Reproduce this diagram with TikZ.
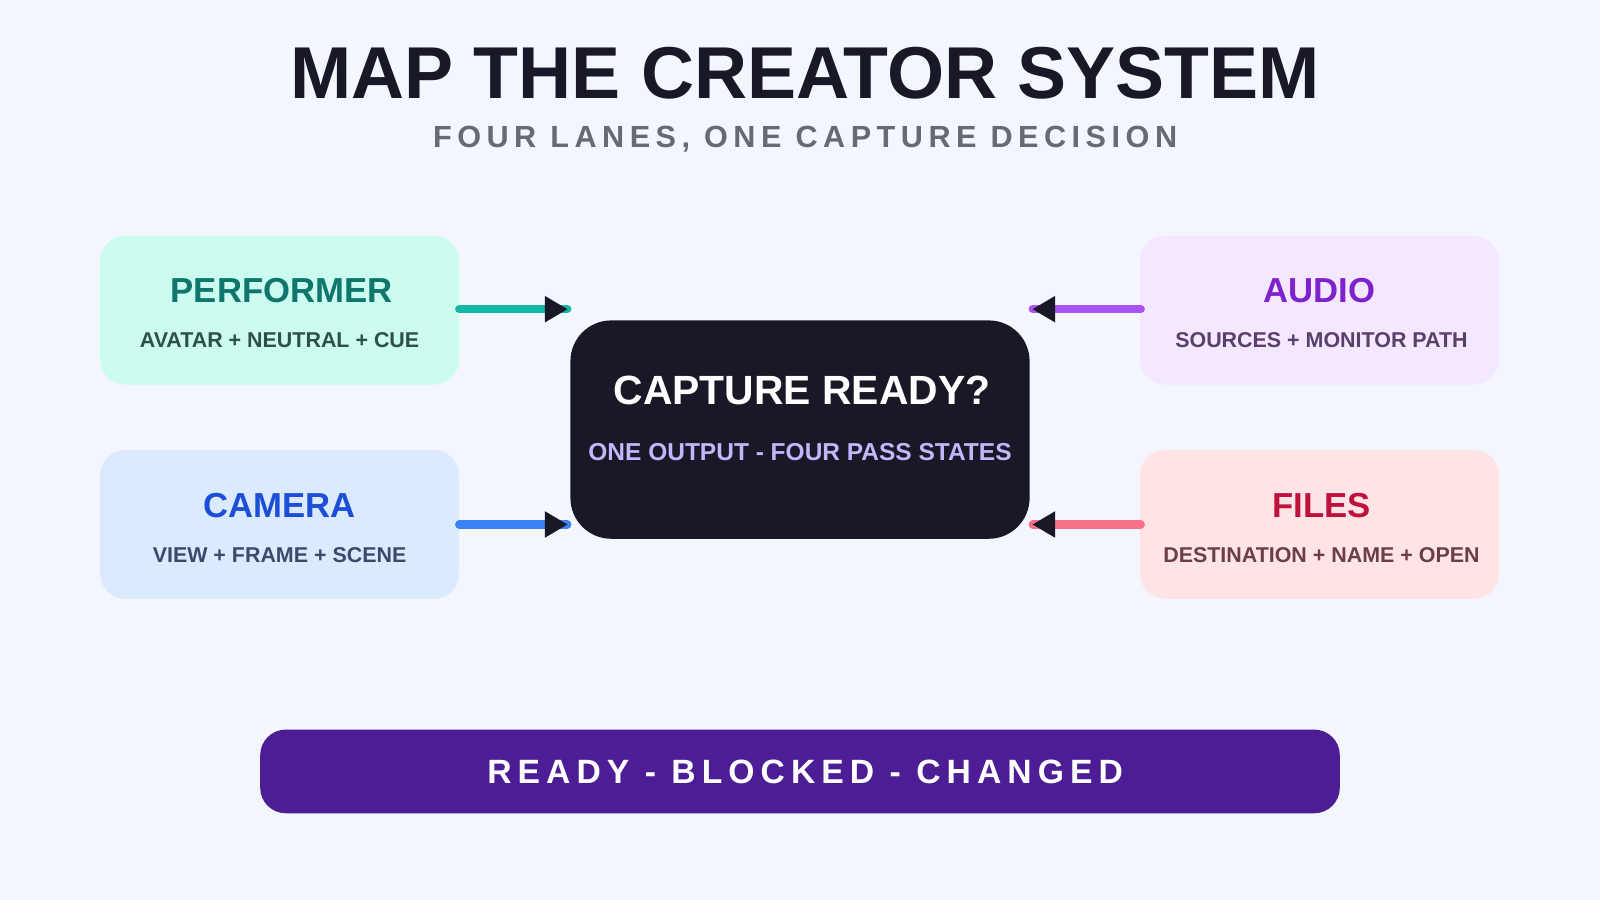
\documentclass[tikz,border=0pt]{standalone}
\usepackage{fontspec}
\setmainfont{Liberation Sans}
\definecolor{bg}{HTML}{F4F6FD}
\definecolor{ink}{HTML}{181826}
\definecolor{pf}{HTML}{CCFBEF}\definecolor{pt}{HTML}{0F766E}\definecolor{ps}{HTML}{2F4F4A}\definecolor{pl}{HTML}{14B8A6}
\definecolor{cf}{HTML}{DBEAFE}\definecolor{ct}{HTML}{1D4ED8}\definecolor{cs}{HTML}{3B4A6B}\definecolor{cl}{HTML}{3B82F6}
\definecolor{af}{HTML}{F3E8FF}\definecolor{at}{HTML}{7E22CE}\definecolor{as}{HTML}{5B3F6B}\definecolor{al}{HTML}{A855F7}
\definecolor{ff}{HTML}{FFE4E6}\definecolor{ft}{HTML}{BE123C}\definecolor{fs}{HTML}{6B3F45}\definecolor{fl}{HTML}{F87186}
\definecolor{lav}{HTML}{C4B5FD}\definecolor{bar}{HTML}{4C1D95}
\tikzset{
 lane/.style={rounded corners=25pt, minimum width=352pt, minimum height=146pt, inner sep=0pt},
 ttl/.style={font=\bfseries\fontsize{34}{38}\selectfont},
 sub/.style={font=\bfseries\fontsize{21}{24}\selectfont},
 conn/.style={line width=8pt, line cap=round},
 tip/.style={fill=ink},
}
\begin{document}
\begin{tikzpicture}[x=1pt,y=-1pt]
\fill[bg] (0,0) rectangle (1568,882);
\useasboundingbox (0,0) rectangle (1568,882);
\node[font=\bfseries\fontsize{72}{80}\selectfont, text=ink] (title) at (789,72) {MAP THE CREATOR SYSTEM};
\node[font=\bfseries\fontsize{30}{34}\selectfont\addfontfeatures{LetterSpace=18}, text=ink!65] (subtitle) at (789,136) {FOUR LANES, ONE CAPTURE DECISION};

\node[lane, fill=pf] (perf) at (274,304) {};
\node[ttl, text=pt] (perft) at (276,285) {PERFORMER};
\node[sub, text=ps] (perfs) at (274,333) {AVATAR + NEUTRAL + CUE};

\node[lane, fill=cf] (cam) at (274,514) {};
\node[ttl, text=ct] (camt) at (274,495) {CAMERA};
\node[sub, text=cs] (cams) at (274,544) {VIEW + FRAME + SCENE};

\node[lane, fill=af] (aud) at (1293,304) {};
\node[ttl, text=at] (audt) at (1293,285) {AUDIO};
\node[sub, text=as] (auds) at (1295,333) {SOURCES + MONITOR PATH};

\node[lane, fill=ff] (fil) at (1293,514) {};
\node[ttl, text=ft] (filt) at (1295,495) {FILES};
\node[sub, text=fs] (fils) at (1295,544) {DESTINATION + NAME + OPEN};

\node[fill=ink, rounded corners=40pt, minimum width=450pt, minimum height=214pt] (core) at (784,421) {};
\node[font=\bfseries\fontsize{40}{44}\selectfont, text=white] (coret) at (786,383) {CAPTURE READY?};
\node[font=\bfseries\fontsize{24}{28}\selectfont, text=lav] (cores) at (784,443) {ONE OUTPUT - FOUR PASS STATES};

\coordinate (p1) at (450,303); \coordinate (p2) at (556,303);
\coordinate (c1) at (450,514); \coordinate (c2) at (556,514);
\coordinate (a1) at (1118,303); \coordinate (a2) at (1012,303);
\coordinate (f1) at (1118,514); \coordinate (f2) at (1012,514);
\draw[conn, draw=pl] (p1) -- (p2);
\draw[conn, draw=cl] (c1) -- (c2);
\draw[conn, draw=al] (a1) -- (a2);
\draw[conn, draw=fl] (f1) -- (f2);
\fill[tip] (p2) -- ++(-22,-13) -- ++(0,26) -- cycle;
\fill[tip] (c2) -- ++(-22,-13) -- ++(0,26) -- cycle;
\fill[tip] (a2) -- ++(22,-13) -- ++(0,26) -- cycle;
\fill[tip] (f2) -- ++(22,-13) -- ++(0,26) -- cycle;

\node[fill=bar, rounded corners=25pt, minimum width=1058pt, minimum height=82pt] (barn) at (784,756) {};
\node[font=\bfseries\fontsize{33}{36}\selectfont\addfontfeatures{LetterSpace=18}, text=white] (bart) at (789,756) {READY - BLOCKED - CHANGED};
\end{tikzpicture}
\end{document}
